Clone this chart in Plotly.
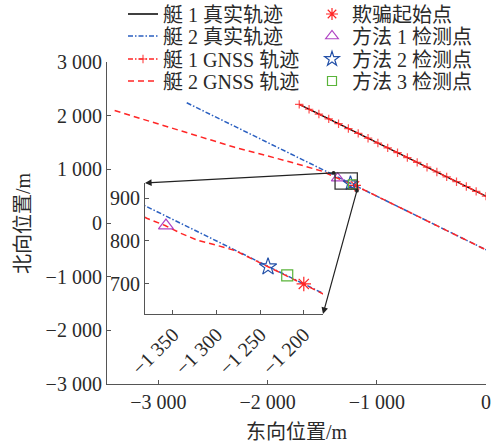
import plotly.graph_objects as go

# ---- data ----
boat1_true_x = [-1710, 0]
boat1_true_y = [2210, 500]

boat2_true_x = [-2740, 0]
boat2_true_y = [2240, -500]

boat1_gnss_x = [-1710, -1620, -1530, -1440, -1350, -1260, -1170, -1080, -990, -900,
                -810, -720, -630, -540, -450, -360, -270, -180, -90, 0]
boat1_gnss_y = [2210, 2120, 2030, 1940, 1850, 1760, 1670, 1580, 1490, 1400,
                1310, 1220, 1130, 1040, 950, 860, 770, 680, 590, 500]

boat2_gnss_x = [-3400, -2900, -2300, -1800, -1500, -1380, -1359, -1340, -1321, -1300,
                -1279, -1260, -1241, -1220, -1200, -600, 0]
boat2_gnss_y = [2095, 1780, 1410, 1142, 965, 853, 836, 817, 801, 790,
                778, 759, 740, 720, 700, 100, -500]

spoof_start = (-1200, 700)
method1_pt = (-1358, 836)
method2_pt = (-1241, 740)
method3_pt = (-1219, 720)

main_xticks = [-3000, -2000, -1000, 0]
main_xtext = ["−3 000", "−2 000", "−1 000", "0"]
main_yticks = [3000, 2000, 1000, 0, -1000, -2000, -3000]
main_ytext = ["3 000", "2 000", "1 000", "0", "−1 000", "−2 000", "−3 000"]
inset_xticks = [-1350, -1300, -1250, -1200]
inset_xtext = ["−1 350", "−1 300", "−1 250", "−1 200"]
inset_yticks = [700, 800, 900]
inset_ytext = ["700", "800", "900"]

names = ["艇 1 真实轨迹", "艇 2 真实轨迹", "艇 1 GNSS 轨迹", "艇 2 GNSS 轨迹",
         "欺骗起始点", "方法 1 检测点", "方法 2 检测点", "方法 3 检测点"]
x_title = "东向位置/m"
y_title = "北向位置/m"

# ---- layout geometry ----
W, H = 491, 443
ML, MR, MT, MB = 107, 5, 62, 59
X_RANGE = [-3470, 0]
Y_RANGE = [-3000, 3000]
ZOOM_X = [-1382, -1178]
ZOOM_Y = [630, 935]
INSET_DX = [0.1003, 0.5699]
INSET_DY = [0.2174, 0.6242]

FONT = "Liberation Serif, Noto Sans CJK SC, serif"
TXT = "#2a2a2a"
RED = "#ff2626"
BLUE = "#2a5fc0"
DASHDOT = "5px,2px,1.5px,2px"
DASHED = "6px,4px"

fig = go.Figure()

# main panel
fig.add_trace(go.Scatter(x=boat1_true_x, y=boat1_true_y, mode="lines", name=names[0],
                         line=dict(color="black", width=1.3), legend="legend"))
fig.add_trace(go.Scatter(x=boat2_true_x, y=boat2_true_y, mode="lines", name=names[1],
                         line=dict(color=BLUE, width=1.5, dash=DASHDOT), legend="legend2"))
fig.add_trace(go.Scatter(x=boat1_gnss_x, y=boat1_gnss_y, mode="lines+markers", name=names[2],
                         line=dict(color=RED, width=1.5, dash=DASHDOT),
                         marker=dict(symbol="cross-thin", size=6, color=RED,
                                     line=dict(color="rgba(255,38,38,0.8)", width=1.2)),
                         legend="legend3"))
fig.add_trace(go.Scatter(x=boat2_gnss_x, y=boat2_gnss_y, mode="lines", name=names[3],
                         line=dict(color=RED, width=1.5, dash=DASHED), legend="legend4"))

marker_specs = [
    (spoof_start, "asterisk-open", RED, 10, "legend5"),
    (method1_pt, "triangle-up-open", "#b044c4", 11, "legend6"),
    (method2_pt, "star-open", "#2350a8", 11, "legend7"),
    (method3_pt, "square-open", "#5ab43a", 9, "legend8"),
]
for i, (pt, sym, col, sz, lg) in enumerate(marker_specs):
    fig.add_trace(go.Scatter(x=[pt[0]], y=[pt[1]], mode="markers", name=names[4 + i],
                             marker=dict(symbol=sym, size=sz, color=col,
                                         line=dict(color=col, width=1.2)),
                             legend=lg))

# inset panel
fig.add_trace(go.Scatter(x=boat2_true_x, y=boat2_true_y, mode="lines", showlegend=False,
                         line=dict(color=BLUE, width=1.5, dash=DASHDOT),
                         xaxis="x2", yaxis="y2"))
fig.add_trace(go.Scatter(x=boat2_gnss_x, y=boat2_gnss_y, mode="lines", showlegend=False,
                         line=dict(color=RED, width=1.5, dash=DASHED),
                         xaxis="x2", yaxis="y2"))
for pt, sym, col, sz, lg in marker_specs:
    fig.add_trace(go.Scatter(x=[pt[0]], y=[pt[1]], mode="markers", showlegend=False,
                             marker=dict(symbol=sym, size=sz + 2, color=col,
                                         line=dict(color=col, width=1.2)),
                             xaxis="x2", yaxis="y2"))

# zoom window outline
fig.add_shape(type="rect", x0=ZOOM_X[0], x1=ZOOM_X[1], y0=ZOOM_Y[0], y1=ZOOM_Y[1],
              xref="x", yref="y", line=dict(color="#333", width=1.3))


def main_x(frac):
    return X_RANGE[0] + frac * (X_RANGE[1] - X_RANGE[0])


def main_y(frac):
    return Y_RANGE[0] + frac * (Y_RANGE[1] - Y_RANGE[0])


arrow_common = dict(xref="x", yref="y", axref="x", ayref="y", text="", showarrow=True,
                    arrowhead=2, arrowsize=1.1, arrowwidth=1.2, arrowcolor="#222",
                    arrowside="end+start", startarrowhead=6, startarrowsize=0.8)
fig.add_annotation(x=main_x(INSET_DX[0]), y=main_y(INSET_DY[1]),
                   ax=ZOOM_X[0], ay=ZOOM_Y[1], **arrow_common)
fig.add_annotation(x=main_x(INSET_DX[1]), y=main_y(INSET_DY[0]),
                   ax=ZOOM_X[1], ay=ZOOM_Y[0], **arrow_common)

# vertical axis title, placed left of the tick labels
fig.add_annotation(text=y_title, xref="paper", yref="paper",
                   x=(23 - ML) / (W - ML - MR), y=0.5, textangle=-90,
                   xanchor="center", yanchor="middle", showarrow=False,
                   font=dict(family=FONT, size=20, color=TXT))

axis_common = dict(showgrid=False, zeroline=False, showline=True, linecolor="#555",
                   linewidth=1.2, ticks="inside", ticklen=4, tickcolor="#555",
                   tickfont=dict(family=FONT, size=20, color=TXT))

fig.update_layout(
    width=W, height=H,
    margin=dict(l=ML, r=MR, t=MT, b=MB, autoexpand=False),
    paper_bgcolor="white", plot_bgcolor="white",
    font=dict(family=FONT, size=20, color=TXT),
    xaxis=dict(range=X_RANGE, tickvals=main_xticks, ticktext=main_xtext,
               title=dict(text=x_title, font=dict(family=FONT, size=20, color=TXT)),
               **axis_common),
    yaxis=dict(range=Y_RANGE, tickvals=main_yticks, ticktext=main_ytext,
               **axis_common),
    xaxis2=dict(domain=INSET_DX, anchor="y2", range=ZOOM_X, tickvals=inset_xticks,
                ticktext=inset_xtext, tickangle=-45, **axis_common),
    yaxis2=dict(domain=INSET_DY, anchor="x2", range=ZOOM_Y, tickvals=inset_yticks,
                ticktext=inset_ytext, **axis_common),
)

# one legend per entry, laid out in two columns of four rows
row_y = [14, 36, 59, 81]
col_x = [123, 312]
legend_ids = ["legend", "legend2", "legend3", "legend4",
              "legend5", "legend6", "legend7", "legend8"]
for k, lid in enumerate(legend_ids):
    c, r = divmod(k, 4)
    fig.update_layout(**{lid: dict(
        xref="container", yref="container",
        x=col_x[c] / W, y=1 - row_y[r] / H,
        xanchor="left", yanchor="middle",
        bgcolor="rgba(0,0,0,0)", borderwidth=0,
        font=dict(family=FONT, size=20, color=TXT),
    )})

fig.write_html("out.html")
